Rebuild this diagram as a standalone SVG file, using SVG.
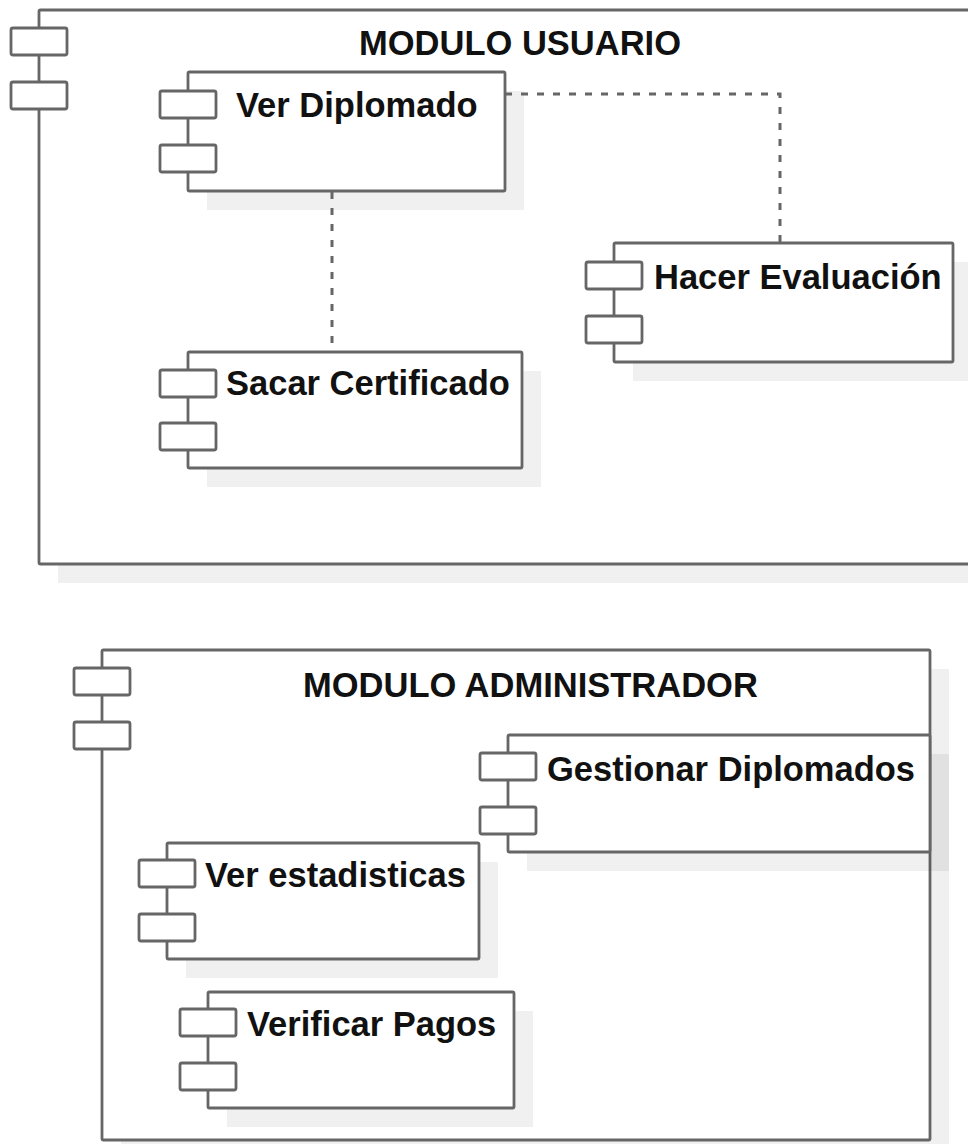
<svg xmlns="http://www.w3.org/2000/svg" width="968" height="1144" viewBox="0 0 968 1144">
  <style>
    .shadow { fill: #000000; fill-opacity: 0.06; stroke: none; }
    .body { fill: #ffffff; stroke: #666666; stroke-width: 2.8; stroke-linejoin: round; }
    .port { fill: #ffffff; stroke: #666666; stroke-width: 2.8; stroke-linejoin: round; }
    .label { font-family: "Liberation Sans", Arial, sans-serif; font-weight: bold; font-size: 34.5px; fill: #111111; }
    .link { fill: none; stroke: #666666; stroke-width: 3; stroke-dasharray: 7 9; }
  </style>

  <!-- Package: MODULO USUARIO -->
  <g id="modulo-usuario">
    <rect class="shadow" x="58" y="29" width="1000" height="554"/>
    <rect class="body" x="39" y="10" width="1000" height="554" rx="1.5"/>
    <rect class="port" x="11" y="28" width="56" height="27" rx="2"/>
    <rect class="port" x="11" y="82" width="56" height="27" rx="2"/>
    <text class="label" x="359" y="55">MODULO USUARIO</text>
  </g>

  <g id="ver-diplomado">
    <rect class="shadow" x="207" y="91" width="317" height="119"/>
    <rect class="body" x="188" y="72" width="317" height="119" rx="1.5"/>
    <rect class="port" x="160" y="91" width="56" height="27" rx="2"/>
    <rect class="port" x="160" y="145" width="56" height="27" rx="2"/>
    <text class="label" x="236" y="117">Ver Diplomado</text>
  </g>

  <g id="hacer-evaluacion">
    <rect class="shadow" x="633" y="262" width="339" height="119"/>
    <rect class="body" x="614" y="243" width="339" height="119" rx="1.5"/>
    <rect class="port" x="586" y="262" width="56" height="27" rx="2"/>
    <rect class="port" x="586" y="316" width="56" height="27" rx="2"/>
    <text class="label" x="654" y="289">Hacer Evaluación</text>
  </g>

  <g id="sacar-certificado">
    <rect class="shadow" x="207" y="371" width="334" height="116"/>
    <rect class="body" x="188" y="352" width="334" height="116" rx="1.5"/>
    <rect class="port" x="160" y="370" width="56" height="27" rx="2"/>
    <rect class="port" x="160" y="423" width="56" height="27" rx="2"/>
    <text class="label" x="226" y="395">Sacar Certificado</text>
  </g>

  <!-- Package: MODULO ADMINISTRADOR -->
  <g id="modulo-administrador">
    <rect class="shadow" x="121" y="669" width="828" height="490"/>
    <rect class="body" x="102" y="650" width="828" height="490" rx="1.5"/>
    <rect class="port" x="74" y="668" width="56" height="27" rx="2"/>
    <rect class="port" x="74" y="722" width="56" height="27" rx="2"/>
    <text class="label" x="303" y="697">MODULO ADMINISTRADOR</text>
  </g>

  <g id="gestionar-diplomados">
    <rect class="shadow" x="527" y="754" width="422" height="117"/>
    <rect class="body" x="508" y="735" width="422" height="117" rx="1.5"/>
    <rect class="port" x="480" y="753" width="56" height="27" rx="2"/>
    <rect class="port" x="480" y="807" width="56" height="27" rx="2"/>
    <text class="label" x="547" y="781">Gestionar Diplomados</text>
  </g>

  <g id="ver-estadisticas">
    <rect class="shadow" x="186" y="862" width="312" height="116"/>
    <rect class="body" x="167" y="843" width="312" height="116" rx="1.5"/>
    <rect class="port" x="139" y="860" width="56" height="27" rx="2"/>
    <rect class="port" x="139" y="914" width="56" height="27" rx="2"/>
    <text class="label" x="205" y="887">Ver estadisticas</text>
  </g>

  <g id="verificar-pagos">
    <rect class="shadow" x="227" y="1011" width="306" height="116"/>
    <rect class="body" x="208" y="992" width="306" height="116" rx="1.5"/>
    <rect class="port" x="180" y="1009" width="56" height="27" rx="2"/>
    <rect class="port" x="180" y="1063" width="56" height="27" rx="2"/>
    <text class="label" x="247" y="1036">Verificar Pagos</text>
  </g>

  <!-- Dependencies -->
  <g id="connectors">
    <path class="link" d="M505 94 H780 V243"/>
    <path class="link" d="M332 192 V351"/>
  </g>
</svg>
